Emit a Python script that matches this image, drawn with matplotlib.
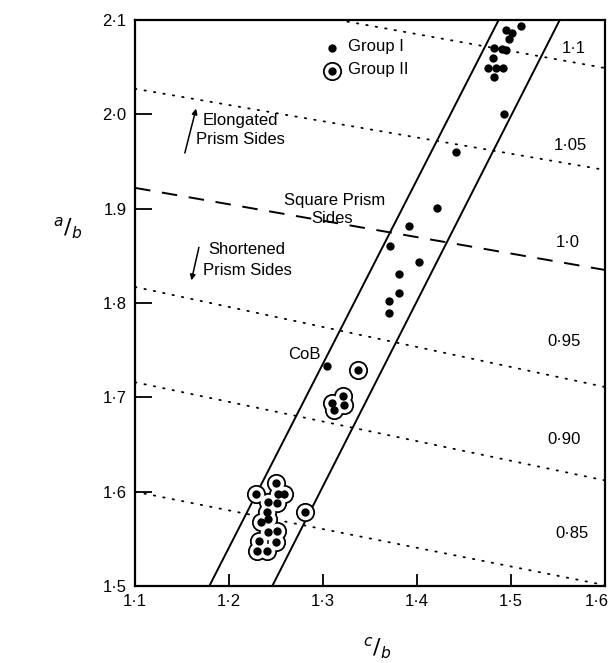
import matplotlib
matplotlib.use("Agg")
import matplotlib.pyplot as plt
from matplotlib.transforms import ScaledTranslation
import numpy as np

plt.rcParams['font.family'] = ['Liberation Sans', 'DejaVu Sans']

# ---- data ----
group1_x = [1.511, 1.495, 1.501, 1.498, 1.482, 1.490, 1.495, 1.481, 1.476, 1.484,
            1.492, 1.482, 1.493, 1.442, 1.421, 1.392, 1.371, 1.402, 1.381, 1.381,
            1.370, 1.370, 1.304]
group1_y = [2.094, 2.089, 2.086, 2.080, 2.070, 2.069, 2.068, 2.060, 2.049, 2.049,
            2.049, 2.040, 2.000, 1.960, 1.901, 1.882, 1.860, 1.843, 1.831, 1.811,
            1.802, 1.789, 1.733]

group2_x = [1.337, 1.310, 1.312, 1.321, 1.322, 1.229, 1.281,
            1.250, 1.252, 1.258, 1.241, 1.251, 1.240, 1.234, 1.242, 1.242, 1.251,
            1.232, 1.250, 1.230, 1.240]
group2_y = [1.729, 1.694, 1.687, 1.701, 1.692, 1.598, 1.579,
            1.609, 1.598, 1.598, 1.589, 1.588, 1.579, 1.568, 1.571, 1.557, 1.558,
            1.548, 1.547, 1.537, 1.537]

band_left_x = [1.179, 1.487]
band_left_y = [1.5, 2.1]
band_right_x = [1.246, 1.552]
band_right_y = [1.5, 2.1]

ratio_labels = ['1·1', '1·05', '1·0', '0·95', '0·90', '0·85']
ratio_x0 = [1.316, 1.1, 1.1, 1.1, 1.1, 1.1]
ratio_y0 = [2.100, 2.027, 1.922, 1.817, 1.716, 1.600]
ratio_x1 = [1.6, 1.6, 1.6, 1.6, 1.6, 1.6]
ratio_y1 = [2.049, 1.941, 1.835, 1.711, 1.612, 1.501]
ratio_lx = [1.567, 1.563, 1.560, 1.557, 1.557, 1.565]
ratio_ly = [2.070, 1.967, 1.864, 1.759, 1.655, 1.556]

xticks = [1.1, 1.2, 1.3, 1.4, 1.5, 1.6]
xtick_labels = ['1·1', '1·2', '1·3', '1·4', '1·5', '1·6']
yticks = [1.5, 1.6, 1.7, 1.8, 1.9, 2.0, 2.1]
ytick_labels = ['1·5', '1·6', '1·7', '1·8', '1.9', '2·0', '2·1']

# ---- figure ----
fig = plt.figure(figsize=(6.11, 6.63), dpi=100)
ax = fig.add_axes([0.221, 0.116, 0.769, 0.854])
ax.set_xlim(1.1, 1.6)
ax.set_ylim(1.5, 2.1)

for s in ax.spines.values():
    s.set_linewidth(1.6)

ax.set_xticks(xticks)
ax.set_xticklabels(xtick_labels, fontsize=12)
ax.set_yticks(yticks)
ax.set_yticklabels(ytick_labels, fontsize=12)
ax.tick_params(axis='x', direction='in', length=9, width=1.3, pad=6)
ax.tick_params(axis='y', direction='in', length=12, width=1.3, pad=6)
last = ax.get_xticklabels()[-1]
last.set_transform(last.get_transform() +
                   ScaledTranslation(-6 / 72, 0, fig.dpi_scale_trans))

# band lines
ax.plot(band_left_x, band_left_y, color='black', lw=1.4, zorder=3)
ax.plot(band_right_x, band_right_y, color='black', lw=1.4, zorder=3)

# ratio lines
for lab, x0, y0, x1, y1, lx, ly in zip(ratio_labels, ratio_x0, ratio_y0, ratio_x1,
                                       ratio_y1, ratio_lx, ratio_ly):
    if lab == '1·0':
        ax.plot([x0, x1], [y0, y1], color='black', lw=1.4,
                linestyle=(0, (8, 6)), zorder=2)
    else:
        ax.plot([x0, x1], [y0, y1], color='black', lw=1.3,
                linestyle=(0, (0.8, 4.5)), dash_capstyle='round', zorder=2)
    ax.text(lx, ly, lab, fontsize=12, ha='center', va='center')

# group II: merged ring outlines
ax.scatter(group2_x, group2_y, s=190, color='black', linewidths=0, zorder=4)
ax.scatter(group2_x, group2_y, s=125, color='white', linewidths=0, zorder=5)
ax.scatter(group2_x, group2_y, s=36, color='black', linewidths=0, zorder=6)

# group I
ax.scatter(group1_x, group1_y, s=36, color='black', linewidths=0, zorder=6)

# legend (manual)
ax.scatter([0.419], [0.951], s=36, color='black', linewidths=0,
           transform=ax.transAxes, zorder=6)
ax.scatter([0.419], [0.910], s=190, color='black', linewidths=0,
           transform=ax.transAxes, zorder=4)
ax.scatter([0.419], [0.910], s=125, color='white', linewidths=0,
           transform=ax.transAxes, zorder=5)
ax.scatter([0.419], [0.910], s=36, color='black', linewidths=0,
           transform=ax.transAxes, zorder=6)
ax.text(0.453, 0.953, 'Group I', transform=ax.transAxes, fontsize=12,
        ha='left', va='center')
ax.text(0.453, 0.912, 'Group II', transform=ax.transAxes, fontsize=12,
        ha='left', va='center')

# annotations
ax.text(1.172, 1.993, 'Elongated', fontsize=12, ha='left', va='center')
ax.text(1.165, 1.973, 'Prism Sides', fontsize=12, ha='left', va='center')
ax.annotate('', xy=(1.165, 2.006), xytext=(1.153, 1.959),
            arrowprops=dict(arrowstyle='-|>', lw=1.1, color='black',
                            mutation_scale=8, shrinkA=0, shrinkB=0))
ax.text(1.178, 1.857, 'Shortened', fontsize=12, ha='left', va='center')
ax.text(1.172, 1.834, 'Prism Sides', fontsize=12, ha='left', va='center')
ax.annotate('', xy=(1.160, 1.824), xytext=(1.168, 1.859),
            arrowprops=dict(arrowstyle='-|>', lw=1.1, color='black',
                            mutation_scale=8, shrinkA=0, shrinkB=0))
ax.text(1.312, 1.909, 'Square Prism', fontsize=12, ha='center', va='center',
        zorder=3)
ax.text(1.310, 1.890, 'Sides', fontsize=12, ha='center', va='center', zorder=3)
ax.text(1.298, 1.745, 'CoB', fontsize=12, ha='right', va='center')

# axis labels
fig.text(0.111, 0.656, r'$^{a}/_{b}$', fontsize=16, ha='center', va='center')
fig.text(0.617, 0.023, r'$^{c}/_{b}$', fontsize=16, ha='center', va='center')

fig.savefig('out.png', dpi=100)
